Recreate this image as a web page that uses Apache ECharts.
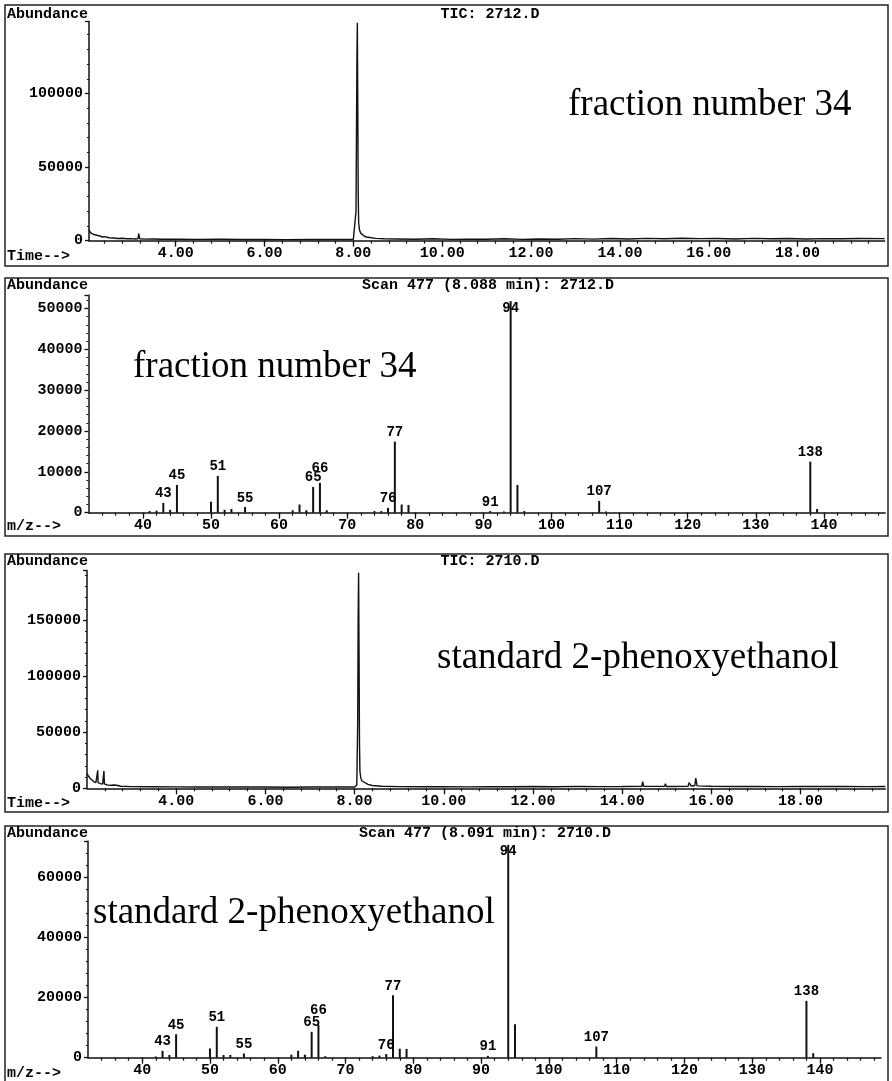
<!DOCTYPE html>
<html>
<head>
<meta charset="utf-8">
<script src="https://cdn.jsdelivr.net/npm/echarts@6/dist/echarts.min.js"></script>
<style>
  html, body { margin: 0; padding: 0; background: #fff; }
  #chart { width: 892px; height: 1081px; }
</style>
</head>
<body>
<div id="chart"></div>
<script>
// TIC, fraction number 34 (2712.D)
var tic34Time = [2.05, 2.08, 2.12, 2.16, 2.2, 2.25, 2.3, 2.35, 2.4, 2.5, 2.6, 2.7, 2.8, 2.9, 3.0, 3.1, 3.15, 3.17, 3.19, 3.3, 3.5, 3.7,
  4.0, 4.5, 5.0, 5.5, 6.0, 6.5, 7.0, 7.5, 7.9, 8.0, 8.04, 8.06, 8.08, 8.09, 8.1, 8.11, 8.12, 8.14, 8.17, 8.2, 8.25, 8.3, 8.4, 8.5, 8.7,
  9.0, 9.4, 9.8, 10.2, 10.6, 11.0, 11.4, 11.8, 12.2, 12.6, 13.0, 13.4, 13.8, 14.2, 14.6, 15.0, 15.4, 15.8, 16.2, 16.6, 17.0, 17.4, 17.8,
  18.2, 18.6, 19.0, 19.4, 19.96]
var tic34Abund = [7500, 5500, 5000, 4200, 4500, 3500, 3200, 2500, 2800, 2000, 1800, 1500, 1700, 1300, 1400, 1200, 1300, 4800, 1300, 1100, 1200, 1000,
  1100, 900, 1000, 800, 900, 700, 800, 900, 800, 900, 1500, 20000, 120000, 148000, 90000, 30000, 12000, 7000, 5000, 3800, 3000, 2500, 2000, 1600, 1300,
  1200, 1000, 1300, 900, 1100, 1000, 1300, 900, 1200, 1000, 1400, 1100, 1500, 1200, 1600, 1300, 1700, 1400, 1500, 1200, 1600, 1300, 1500,
  1200, 1400, 1300, 1500, 1400]

// TIC, standard 2-phenoxyethanol (2710.D)
var ticStdTime = [2.0, 2.03, 2.07, 2.1, 2.15, 2.2, 2.23, 2.24, 2.25, 2.3, 2.35, 2.37, 2.38, 2.39, 2.45, 2.5, 2.6, 2.7, 2.75, 3.0, 3.5, 4.0,
  4.5, 5.0, 5.5, 6.0, 6.5, 7.0, 7.5, 8.0, 8.05, 8.07, 8.08, 8.09, 8.1, 8.11, 8.12, 8.14, 8.17, 8.2, 8.3, 8.4, 8.6, 9.0, 9.5, 10.0,
  10.5, 11.0, 11.5, 12.0, 12.5, 13.0, 13.5, 14.0, 14.44, 14.46, 14.48, 14.95, 14.97, 14.99, 15.48, 15.5, 15.55, 15.63, 15.65, 15.68,
  16.0, 16.5, 17.0, 17.5, 18.0, 18.5, 19.0, 19.5, 19.9]
var ticStdAbund = [13000, 11000, 9000, 7500, 6000, 5000, 5500, 16000, 5000, 4200, 3800, 4000, 15500, 4000, 3000, 2600, 3000, 2500, 1800, 1500, 1400, 1300,
  1200, 1300, 1100, 1200, 1000, 1200, 1100, 1200, 3000, 60000, 150000, 192000, 120000, 40000, 15000, 9000, 6500, 5000, 3500, 2500, 1800, 1500, 1400, 1500,
  1300, 1500, 1400, 1600, 1400, 1700, 1500, 1600, 1800, 6000, 1800, 1700, 4000, 1600, 1800, 5000, 2000, 2500, 9000, 2200,
  1800, 1600, 1700, 1500, 1700, 1600, 1700, 1500, 1600]

// Mass spectrum, scan 477 of 2712.D
var ms34Mz = [41, 42, 43, 44, 45, 50, 51, 52, 53, 55, 62, 63, 64, 65, 66, 67, 74, 75, 76, 77, 78, 79, 91, 93, 94, 95, 96, 107, 108, 138, 139]
var ms34Abund = [400, 500, 2400, 700, 6800, 2700, 9000, 700, 900, 1400, 600, 2000, 600, 6300, 7300, 600, 400, 400, 1200, 17400, 2000, 1900, 400, 300, 51800, 6800, 400, 2900, 300, 12500, 900]
var ms34Labels = [43, 45, 51, 55, 65, 66, 76, 77, 91, 94, 107, 138]

// Mass spectrum, scan 477 of 2710.D
var msStdMz = [42, 43, 44, 45, 50, 51, 52, 53, 55, 62, 63, 64, 65, 66, 67, 74, 75, 76, 77, 78, 79, 91, 94, 95, 107, 138, 139]
var msStdAbund = [400, 2300, 900, 7800, 3100, 10300, 900, 900, 1400, 1000, 2300, 1000, 8600, 10900, 500, 500, 700, 1200, 20800, 3000, 2900, 600, 70800, 11100, 3700, 18900, 1500]
var msStdLabels = [43, 45, 51, 55, 65, 66, 76, 77, 91, 94, 107, 138]

var timeLabels = [4, 6, 8, 10, 12, 14, 16, 18]
var timeMinor = []
for (var t = 2.4; t < 19.9; t += 0.4) timeMinor.push(Math.round(t * 10) / 10)
var mzLabels = [40, 50, 60, 70, 80, 90, 100, 110, 120, 130, 140]
var mzMinor = []
for (var m = 34; m <= 148; m += 2) mzMinor.push(m)

var mono = '"Liberation Mono", "DejaVu Sans Mono", monospace'
var serif = '"Liberation Serif", "DejaVu Serif", serif'

var chart = echarts.init(document.getElementById('chart'))

function pairs (xs, ys) {
  return xs.map(function (x, i) { return [x, ys[i]] })
}

function msData (mz, ab, labels) {
  return mz.map(function (x, i) {
    var item = { value: [x, ab[i]] }
    if (labels.indexOf(x) >= 0) {
      item.label = { show: true, position: 'top', distance: 2 }
      if (x === 66) item.label.distance = 7
      if (x === 94) item.label = { show: true, position: 'insideTop', distance: 0 }
    }
    return item
  })
}

var grids = [
  { left: 89, top: 21.4, width: 795.7, height: 219.3 },
  { left: 88.4, top: 295, width: 796.8, height: 217.7 },
  { left: 87, top: 570.6, width: 798.3, height: 217.7 },
  { left: 88, top: 841.2, width: 793, height: 216.5 }
]

function xMain (grid, min, max, labels, fmt) {
  return {
    type: 'value', gridIndex: grid, min: min, max: max, position: 'bottom',
    axisLine: { onZero: false, lineStyle: { color: '#111', width: 1.5 } },
    axisTick: { customValues: labels, length: 6, lineStyle: { color: '#111', width: 1.3 } },
    axisLabel: { customValues: labels, formatter: fmt, color: '#000', fontFamily: mono, fontWeight: 'bold', fontSize: 15, margin: 5 },
    splitLine: { show: false }
  }
}
function xMinor (grid, min, max, ticks) {
  return {
    type: 'value', gridIndex: grid, min: min, max: max, position: 'bottom',
    axisLine: { show: false, onZero: false },
    axisTick: { customValues: ticks, length: 3, lineStyle: { color: '#111', width: 1.2 } },
    axisLabel: { show: false },
    splitLine: { show: false }
  }
}
function yAxis (grid, max, interval) {
  return {
    type: 'value', gridIndex: grid, min: 0, max: max, interval: interval,
    axisLine: { show: true, lineStyle: { color: '#111', width: 1.5 } },
    axisTick: { show: true, length: 4, lineStyle: { color: '#111', width: 1.3 } },
    minorTick: { show: true, splitNumber: 5, length: 2, lineStyle: { color: '#111', width: 1 } },
    axisLabel: { showMaxLabel: false, formatter: function (v) { return String(v) },
      color: '#000', fontFamily: mono, fontWeight: 'bold', fontSize: 15, margin: 6 },
    splitLine: { show: false }
  }
}

function fmtTime (v) { return v.toFixed(2) }
function fmtMz (v) { return String(v) }

function txt (x, y, s, size, family, weight, align) {
  return {
    type: 'text', silent: true,
    style: {
      text: s, x: x, y: y, fill: '#000',
      font: (weight || 'normal') + ' ' + size + 'px ' + family,
      textAlign: align || 'left', textVerticalAlign: 'middle',
      align: align || 'left', verticalAlign: 'middle'
    }
  }
}
function frame (x, y, w, h) {
  return { type: 'rect', silent: true, shape: { x: x, y: y, width: w, height: h },
    style: { fill: 'none', stroke: '#222', lineWidth: 1.5 } }
}

var lineStyle = { color: '#111', width: 1.4 }
var barLabel = { color: '#000', fontFamily: mono, fontWeight: 'bold', fontSize: 14,
  formatter: function (p) { return String(p.value[0]) } }

var option = {
  animation: false,
  grid: grids,
  xAxis: [
    xMain(0, 2.05, 19.96, timeLabels, fmtTime), xMinor(0, 2.05, 19.96, timeMinor),
    xMain(1, 32, 149, mzLabels, fmtMz), xMinor(1, 32, 149, mzMinor),
    xMain(2, 2.0, 19.9, timeLabels, fmtTime), xMinor(2, 2.0, 19.9, timeMinor),
    xMain(3, 32, 149, mzLabels, fmtMz), xMinor(3, 32, 149, mzMinor)
  ],
  yAxis: [
    yAxis(0, 149000, 50000),
    yAxis(1, 53300, 10000),
    yAxis(2, 194000, 50000),
    yAxis(3, 72000, 20000)
  ],
  series: [
    { type: 'line', xAxisIndex: 0, yAxisIndex: 0, data: pairs(tic34Time, tic34Abund),
      showSymbol: false, lineStyle: lineStyle },
    { type: 'bar', xAxisIndex: 2, yAxisIndex: 1, data: msData(ms34Mz, ms34Abund, ms34Labels),
      barWidth: 2, itemStyle: { color: '#111' }, label: barLabel },
    { type: 'line', xAxisIndex: 4, yAxisIndex: 2, data: pairs(ticStdTime, ticStdAbund),
      showSymbol: false, lineStyle: lineStyle },
    { type: 'bar', xAxisIndex: 6, yAxisIndex: 3, data: msData(msStdMz, msStdAbund, msStdLabels),
      barWidth: 2, itemStyle: { color: '#111' }, label: barLabel }
  ],
  graphic: [
    frame(5, 5, 883, 261),
    frame(5, 278, 883, 258),
    frame(5, 554, 883, 258),
    frame(5, 826, 883, 256),

    txt(7, 14, 'Abundance', 15, mono, 'bold'),
    txt(490, 14, 'TIC: 2712.D', 15, mono, 'bold', 'center'),
    txt(7, 256, 'Time-->', 15, mono, 'bold'),
    txt(568, 105, 'fraction number 34', 37, serif),

    txt(7, 285, 'Abundance', 15, mono, 'bold'),
    txt(362, 285, 'Scan 477 (8.088 min): 2712.D', 15, mono, 'bold'),
    txt(7, 526, 'm/z-->', 15, mono, 'bold'),
    txt(133, 367, 'fraction number 34', 37, serif),

    txt(7, 561, 'Abundance', 15, mono, 'bold'),
    txt(490, 561, 'TIC: 2710.D', 15, mono, 'bold', 'center'),
    txt(7, 803, 'Time-->', 15, mono, 'bold'),
    txt(437, 658, 'standard 2-phenoxyethanol', 37, serif),

    txt(7, 833, 'Abundance', 15, mono, 'bold'),
    txt(359, 833, 'Scan 477 (8.091 min): 2710.D', 15, mono, 'bold'),
    txt(7, 1073, 'm/z-->', 15, mono, 'bold'),
    txt(93, 913, 'standard 2-phenoxyethanol', 37, serif)
  ]
}

chart.setOption(option)
</script>
</body>
</html>
